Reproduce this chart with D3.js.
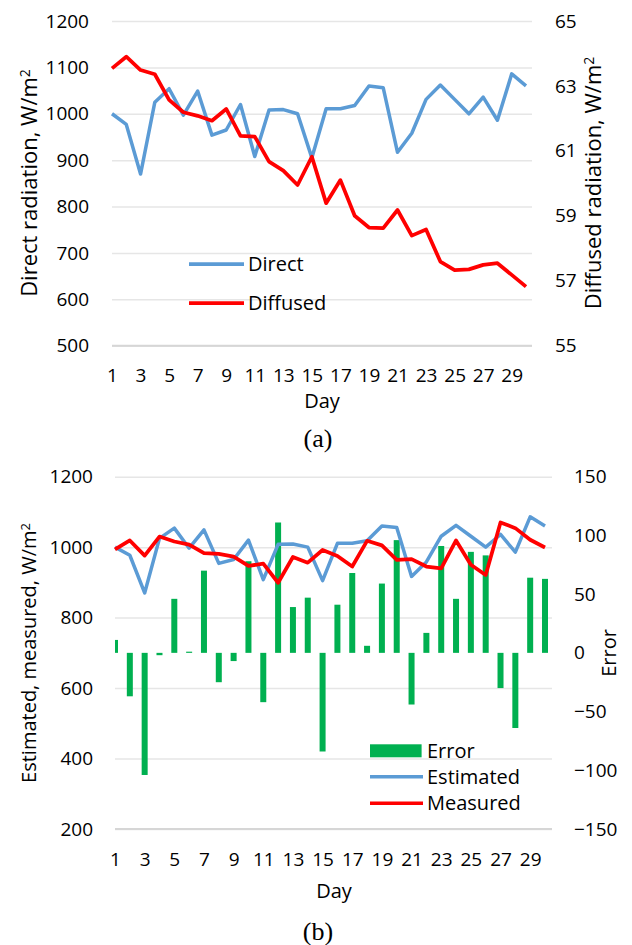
<!DOCTYPE html>
<html>
<head>
  <meta charset="UTF-8">
  <title>Direct / diffused radiation and estimation error</title>
  <style>
    body { margin: 0; background: #fff; }
    svg text { font-family: "Open Sans", sans-serif; fill: #000; }
    .grid line { stroke: #e6e6e6; stroke-width: 1.5; }
    .base { stroke: #d6d6d6; stroke-width: 2; }
  </style>
</head>
<body>
  <svg></svg>
  <script src="https://d3js.org/d3.v7.min.js"></script>
  <script>
    // data
    const days = [1,2,3,4,5,6,7,8,9,10,11,12,13,14,15,16,17,18,19,20,21,22,23,24,25,26,27,28,29,30];
    const dayTicks = [1,3,5,7,9,11,13,15,17,19,21,23,25,27,29];
    const direct = [1000, 977, 870, 1025, 1054, 997, 1049, 954, 965, 1020, 908, 1008, 1009, 1000, 905,
                    1011, 1011, 1018, 1060, 1056, 917, 958, 1031, 1062, 1031, 1000, 1036, 986, 1086, 1060];
    const diffused = [63.54, 63.9, 63.49, 63.36, 62.57, 62.19, 62.08, 61.93, 62.29, 61.46, 61.44, 60.67, 60.39, 59.95, 60.82,
                      59.39, 60.1, 59.0, 58.64, 58.62, 59.18, 58.39, 58.58, 57.59, 57.33, 57.35, 57.49, 57.54, 57.18, 56.82];
    const estimated = [1000, 977, 870, 1025, 1054, 997, 1049, 954, 965, 1020, 908, 1008, 1009, 1000, 905,
                       1011, 1011, 1018, 1060, 1056, 917, 958, 1031, 1062, 1031, 1000, 1036, 986, 1086, 1060];
    const measured = [994, 1019, 976, 1030, 1016, 1007, 983, 981, 973, 947, 953, 899, 972, 956, 992,
                      975, 945, 1018, 1005, 964, 966, 945, 940, 1019, 950, 921, 1070, 1054, 1021, 999];
    const errors = [11, -37, -104, -2, 46, 1, 70, -25, -7, 78, -42, 111, 39, 47, -84,
                    41, 68, 6, 59, 96, -44, 17, 91, 46, 86, 83, -30, -64, 64, 63];
    const leftTicksA = [500, 600, 700, 800, 900, 1000, 1100, 1200];
    const rightTicksA = [55, 57, 59, 61, 63, 65];
    const leftTicksB = [200, 400, 600, 800, 1000, 1200];
    const rightTicksB = [-150, -100, -50, 0, 50, 100, 150];

    const blue = "#5b9bd5", red = "#ff0000", green = "#00b050";
    const fs = 20, tfs = 19;

    let svg = d3.select("svg").attr("width", 632).attr("height", 945);

    function panel(o) {
      let g = svg.append("g");
      let x = d3.scaleLinear().domain([1, 30]).range([o.left, o.last]);
      let yL = d3.scaleLinear().domain(o.lDom).range([o.bottom, o.top]);
      let yR = d3.scaleLinear().domain(o.rDom).range([o.bottom, o.top]);

      // gridlines + left labels
      let la = g.append("g").attr("class", "grid")
          .attr("transform", `translate(${o.left},0)`)
          .call(d3.axisLeft(yL).tickValues(o.lTicks).tickSize(-(o.right - o.left))
                .tickPadding(o.pad).tickFormat(d3.format("d")));
      la.select(".domain").remove();
      la.selectAll("text").style("font-size", tfs + "px");
      g.append("line").attr("class", "base")
          .attr("x1", o.left).attr("x2", o.right).attr("y1", o.bottom).attr("y2", o.bottom);

      // right labels
      let ra = g.append("g").attr("transform", `translate(${o.right},0)`)
          .call(d3.axisRight(yR).tickValues(o.rTicks).tickSize(0).tickPadding(o.rpad).tickFormat(d3.format("d")));
      ra.select(".domain").remove();
      ra.selectAll("text").style("font-size", tfs + "px");

      // day axis
      let xa = g.append("g").attr("transform", `translate(0,${o.bottom})`)
          .call(d3.axisBottom(x).tickValues(dayTicks).tickSize(0).tickPadding(o.xpad).tickFormat(d3.format("d")));
      xa.select(".domain").remove();
      xa.selectAll("text").style("font-size", tfs + "px");

      return {g, x, yL, yR};
    }

    function rotTitle(cx, cy, size, main, sup) {
      let t = svg.append("text")
          .attr("transform", `translate(${cx},${cy}) rotate(-90)`)
          .attr("text-anchor", "middle").attr("dy", "0.35em")
          .style("font-size", size + "px");
      t.append("tspan").text(main);
      if (sup) t.append("tspan").attr("dy", "-0.45em").style("font-size", Math.round(size * 0.65) + "px").text(sup);
    }

    function drawLine(p, data, y, color, w) {
      p.g.append("path")
          .datum(data)
          .attr("fill", "none")
          .attr("stroke", color)
          .attr("stroke-width", w)
          .attr("stroke-linejoin", "round")
          .attr("d", d3.line().x((d, i) => p.x(days[i])).y(d => y(d)));
    }

    // ---- panel (a)
    let a = panel({left: 112, right: 532, last: 526, top: 21, bottom: 345.7,
                   lDom: [500, 1200], rDom: [55, 65], lTicks: leftTicksA, rTicks: rightTicksA,
                   pad: 23, rpad: 23, xpad: 23});
    drawLine(a, direct, a.yL, blue, 3.5);
    drawLine(a, diffused, a.yR, red, 3.75);
    rotTitle(29, 183, 22, "Direct radiation, W/m", "2");
    rotTitle(593, 183, 22, "Diffused radiation, W/m", "2");
    svg.append("text").attr("x", 322).attr("y", 408).attr("text-anchor", "middle")
        .style("font-size", fs + "px").text("Day");

    let legA = [["Direct", blue, 264], ["Diffused", red, 303]];
    legA.forEach(l => {
      svg.append("line").attr("x1", 189).attr("x2", 244).attr("y1", l[2]).attr("y2", l[2])
          .attr("stroke", l[1]).attr("stroke-width", 3.75);
      svg.append("text").attr("x", 248).attr("y", l[2]).attr("dy", "0.35em")
          .style("font-size", fs + "px").text(l[0]);
    });

    svg.append("text").attr("x", 318).attr("y", 447).attr("text-anchor", "middle")
        .style("font-family", "'Liberation Serif', serif").style("font-size", "26px").text("(a)");

    // ---- panel (b)
    let b = panel({left: 115, right: 552, last: 545, top: 476.7, bottom: 829,
                   lDom: [200, 1200], rDom: [-150, 150], lTicks: leftTicksB, rTicks: rightTicksB,
                   pad: 22, rpad: 22, xpad: 24});
    svg.append("clipPath").attr("id", "clipB").append("rect")
        .attr("x", 115).attr("y", 470).attr("width", 437).attr("height", 360);
    let bw = 6;
    b.g.append("g").attr("clip-path", "url(#clipB)")
        .selectAll("rect").data(errors).enter().append("rect")
        .attr("x", (d, i) => b.x(days[i]) - bw / 2)
        .attr("width", bw)
        .attr("y", d => b.yR(Math.max(0, d)))
        .attr("height", d => Math.abs(b.yR(d) - b.yR(0)))
        .attr("fill", green);
    drawLine(b, estimated, b.yL, blue, 3.5);
    drawLine(b, measured, b.yL, red, 3.75);
    rotTitle(29, 653, fs, "Estimated, measured, W/m", "2");
    rotTitle(609, 653, fs, "Error");
    svg.append("text").attr("x", 334).attr("y", 898).attr("text-anchor", "middle")
        .style("font-size", fs + "px").text("Day");

    svg.append("rect").attr("x", 370).attr("y", 744.3).attr("width", 51.6).attr("height", 13).attr("fill", green);
    svg.append("text").attr("x", 427).attr("y", 750.8).attr("dy", "0.35em").style("font-size", fs + "px").text("Error");
    let legB = [["Estimated", blue, 776.7], ["Measured", red, 803.3]];
    legB.forEach(l => {
      svg.append("line").attr("x1", 370).attr("x2", 423).attr("y1", l[2]).attr("y2", l[2])
          .attr("stroke", l[1]).attr("stroke-width", 3.5);
      svg.append("text").attr("x", 427).attr("y", l[2]).attr("dy", "0.35em")
          .style("font-size", fs + "px").text(l[0]);
    });

    svg.append("text").attr("x", 318).attr("y", 940).attr("text-anchor", "middle")
        .style("font-family", "'Liberation Serif', serif").style("font-size", "26px").text("(b)");
  </script>
</body>
</html>
